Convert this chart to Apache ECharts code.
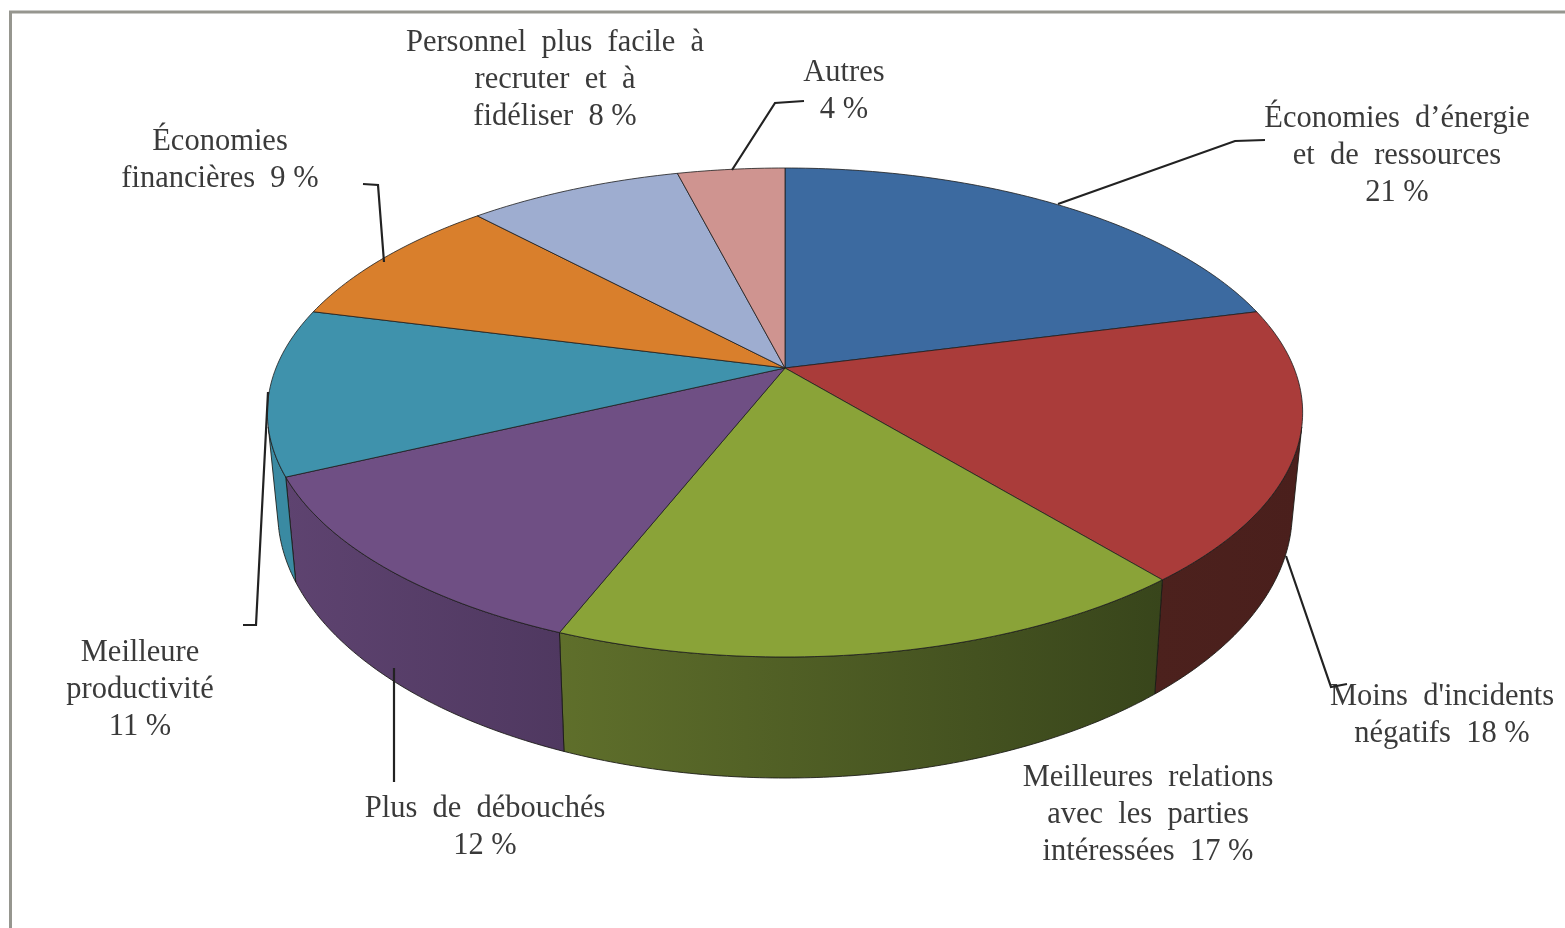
<!DOCTYPE html>
<html>
<head>
<meta charset="utf-8">
<title>Avantages</title>
<style>
  html, body { margin: 0; padding: 0; background: #fff; }
  #main { width: 1565px; height: 928px; }
</style>
<script src="https://cdn.jsdelivr.net/npm/echarts@6/dist/echarts.min.js"></script>
</head>
<body>
<div id="main"></div>
<script>
// donnees, dans le sens horaire depuis le haut
var categories = [
  "Économies  d’énergie\net  de  ressources\n",
  "Moins  d'incidents\nnégatifs  ",
  "Meilleures  relations\navec  les  parties\nintéressées  ",
  "Plus  de  débouchés\n",
  "Meilleure\nproductivité\n",
  "Économies\nfinancières  ",
  "Personnel  plus  facile  à\nrecruter  et  à\nfidéliser  ",
  "Autres\n"
];
var shares = [21, 18, 17, 12, 11, 9, 8, 4];

// couleurs
var topColors = ["#3c6aa0", "#aa3c3a", "#8aa338", "#6f4f84", "#3f92ac", "#d97f2c", "#9eadd0", "#cf9490"];
var sideColors = [
  ["#2c4e76", "#2c4e76"],
  ["#4c211d", "#4a1f1c"],
  ["#5f6f2b", "#38451b"],
  ["#5e4370", "#4f3860"],
  ["#3a8aa2", "#3a8aa2"],
  ["#9c5a1e", "#9c5a1e"],
  ["#74809a", "#74809a"],
  ["#96696a", "#96696a"]
];

// mise en page : centre de la premiere ligne de chaque etiquette
var labelCenters = [[1397, 117], [1442, 695], [1148, 776], [485, 807], [140, 651], [220, 140], [555, 41], [844, 71]];
var leaderPaths = [
  [[1058, 204], [1235, 141], [1265, 140]],
  [[1286, 556], [1331, 687], [1347, 684]],
  [],
  [[394, 668], [394, 782]],
  [[268, 392], [256, 625], [243, 625]],
  [[363, 184], [378, 185], [384, 262]],
  [],
  [[732, 170], [775, 103], [804, 101]]
];

// projection du disque (perspective)
var cx = 785, cy = 368, ax = 509, ay = 236.4, persp = 0.182;
var total = shares.reduce(function (a, b) { return a + b; }, 0);

function rim(t) {
  var th = t / total * Math.PI * 2;
  var u = Math.sin(th), v = -Math.cos(th);
  var w = 1 - persp * v;
  return [cx + ax * u / w, cy + ay * v / w];
}
// meme point sur la face du bas
function lower(p) {
  return [cx + 0.98 * (p[0] - cx), p[1] + 105 + 0.089 * (p[1] - 477)];
}
function arc(t0, t1) {
  var pts = [];
  var n = Math.max(12, Math.round((t1 - t0) * 4));
  for (var i = 0; i <= n; i++) {
    pts.push(rim(t0 + (t1 - t0) * i / n));
  }
  return pts;
}
// la paroi n'est visible que si l'extrusion sort du disque a ce point
function facesViewer(t) {
  var a = rim(t - 0.05), b = rim(t + 0.05), p = rim(t), q = lower(p);
  return (b[0] - a[0]) * (q[1] - p[1]) - (b[1] - a[1]) * (q[0] - p[0]) < 0;
}

var sliceData = [];
var sum = 0;
for (var i = 0; i < shares.length; i++) {
  sliceData.push([shares[i], sum]);
  sum += shares[i];
}

function renderSide(params, api) {
  var i = params.dataIndex;
  var t0 = api.value(1), t1 = t0 + api.value(0);
  var n = Math.max(24, Math.round((t1 - t0) * 6));
  var top = [];
  for (var k = 0; k <= n; k++) {
    var t = t0 + (t1 - t0) * k / n;
    if (facesViewer(t)) {
      top.push(rim(t));
    }
  }
  if (top.length < 2) {
    return null;
  }
  var pts = top.concat(top.map(lower).reverse());
  return {
    type: "polygon",
    shape: { points: pts },
    style: {
      fill: new echarts.graphic.LinearGradient(0, 0, 1, 0, [
        { offset: 0, color: sideColors[i][0] },
        { offset: 1, color: sideColors[i][1] }
      ]),
      stroke: "rgba(25,25,20,.85)",
      lineWidth: 1
    }
  };
}

function renderTop(params, api) {
  var i = params.dataIndex;
  var t0 = api.value(1), t1 = t0 + api.value(0);
  return {
    type: "polygon",
    shape: { points: [[cx, cy]].concat(arc(t0, t1)) },
    style: { fill: topColors[i], stroke: "rgba(30,30,30,.8)", lineWidth: 1 }
  };
}

function renderLabel(params, api) {
  var i = params.dataIndex;
  var c = labelCenters[i];
  var kids = [{
    type: "text",
    style: {
      text: categories[i] + api.value(0) + " %",
      x: c[0],
      y: c[1] - 17,
      textAlign: "center",
      textVerticalAlign: "top",
      font: "30.5px 'Liberation Serif', serif",
      lineHeight: 37,
      fill: "#3a3a3a"
    }
  }];
  if (leaderPaths[i].length) {
    kids.push({
      type: "polyline",
      shape: { points: leaderPaths[i] },
      style: { fill: null, stroke: "#222", lineWidth: 2.2 }
    });
  }
  return { type: "group", children: kids };
}

var myChart = echarts.init(document.getElementById("main"));
var option = {
  backgroundColor: "#fff",
  animation: false,
  graphic: [{
    type: "polyline",
    shape: { points: [[10.5, 928], [10.5, 12], [1565, 12]] },
    style: { fill: null, stroke: "#96968f", lineWidth: 3 },
    silent: true
  }],
  series: [
    { type: "custom", coordinateSystem: "none", silent: true, z: 1, data: sliceData, renderItem: renderSide },
    { type: "custom", coordinateSystem: "none", silent: true, z: 2, data: sliceData, renderItem: renderTop },
    { type: "custom", coordinateSystem: "none", silent: true, z: 3, data: sliceData, renderItem: renderLabel }
  ]
};
myChart.setOption(option);
window.addEventListener("resize", function () {
  myChart.resize();
});
</script>
</body>
</html>
